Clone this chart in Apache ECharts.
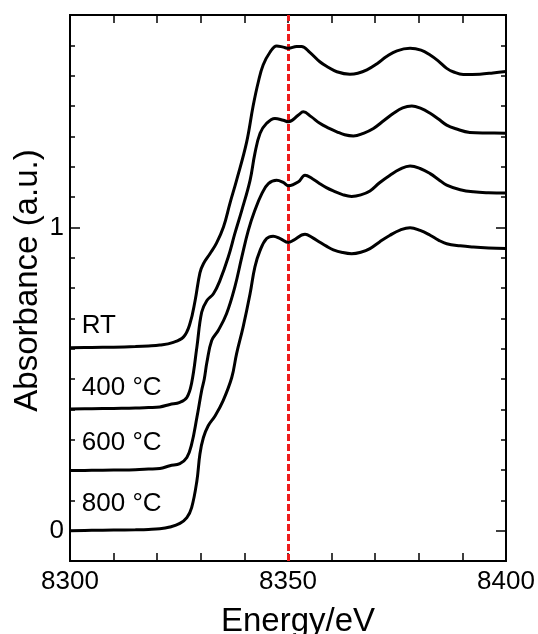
<!DOCTYPE html>
<html>
<head>
<meta charset="utf-8">
<script src="https://cdn.jsdelivr.net/npm/echarts@6/dist/echarts.min.js"></script>
<style>
html, body {margin: 0; padding: 0; background: #fff;}
#main {width: 538px; height: 634px;}
</style>
</head>
<body>
<div id="main"></div>
<script>
// spectra (energy in eV, absorbance in a.u., already offset)
var energyRT = [8300, 8305, 8310, 8315, 8318, 8320.6, 8323.5, 8326.0, 8327.5, 8328.7, 8329.8, 8330.6, 8332.1, 8333.6, 8335.2, 8336.7, 8338.2, 8340.5, 8342.0, 8343.2, 8344.3, 8345.9, 8347.4, 8348.9, 8350.1, 8352.0, 8353.1, 8355.0, 8357.3, 8359.2, 8361.2, 8364.2, 8366.0, 8368.1, 8370.5, 8372.6, 8375.0, 8378.0, 8380.5, 8382.6, 8384.5, 8386.4, 8388.0, 8390.2, 8394.0, 8397.0, 8400];
var absRT = [0.603, 0.604, 0.605, 0.607, 0.609, 0.612, 0.620, 0.638, 0.682, 0.759, 0.850, 0.880, 0.913, 0.948, 1.001, 1.080, 1.155, 1.280, 1.400, 1.480, 1.535, 1.578, 1.598, 1.594, 1.590, 1.596, 1.596, 1.577, 1.546, 1.528, 1.513, 1.505, 1.508, 1.519, 1.540, 1.563, 1.582, 1.590, 1.584, 1.568, 1.548, 1.524, 1.512, 1.504, 1.505, 1.509, 1.514];

var energy400 = [8300, 8305, 8310, 8315, 8318, 8320.6, 8322.9, 8325.2, 8326.8, 8327.9, 8329.1, 8330.2, 8331.4, 8332.9, 8334.4, 8336.3, 8337.8, 8339.4, 8341.3, 8342.4, 8343.6, 8345.1, 8347.0, 8348.9, 8350.1, 8352.4, 8353.5, 8355.3, 8357.3, 8359.2, 8361.2, 8363.0, 8365.0, 8367.3, 8369.6, 8372.0, 8374.2, 8376.3, 8378.4, 8380.5, 8382.6, 8384.5, 8386.4, 8388.5, 8391.7, 8396.0, 8400];
var abs400 = [0.401, 0.402, 0.403, 0.404, 0.406, 0.408, 0.416, 0.423, 0.439, 0.487, 0.605, 0.720, 0.759, 0.781, 0.825, 0.902, 0.979, 1.056, 1.155, 1.243, 1.310, 1.343, 1.359, 1.353, 1.348, 1.370, 1.381, 1.365, 1.343, 1.328, 1.315, 1.305, 1.301, 1.310, 1.326, 1.352, 1.376, 1.394, 1.400, 1.392, 1.376, 1.357, 1.337, 1.325, 1.313, 1.311, 1.310];

var energy600 = [8300, 8305, 8310, 8315, 8318, 8320.6, 8322.9, 8325.2, 8326.8, 8327.9, 8329.1, 8330.2, 8330.8, 8331.4, 8332.5, 8334.0, 8335.9, 8337.8, 8339.4, 8340.9, 8342.4, 8344.0, 8345.5, 8347.4, 8348.9, 8350.1, 8352.4, 8353.9, 8355.6, 8357.3, 8358.8, 8360.4, 8362.5, 8364.6, 8366.7, 8368.8, 8371.0, 8373.4, 8375.7, 8378.0, 8380.3, 8382.6, 8384.5, 8386.4, 8389.5, 8392.5, 8396.0, 8400];
var abs600 = [0.198, 0.199, 0.200, 0.201, 0.203, 0.205, 0.214, 0.221, 0.241, 0.285, 0.373, 0.462, 0.500, 0.555, 0.627, 0.660, 0.715, 0.803, 0.902, 0.990, 1.056, 1.111, 1.144, 1.155, 1.148, 1.137, 1.150, 1.172, 1.160, 1.144, 1.131, 1.120, 1.108, 1.102, 1.107, 1.120, 1.147, 1.172, 1.192, 1.202, 1.194, 1.177, 1.158, 1.139, 1.124, 1.117, 1.114, 1.113];

var energy800 = [8300, 8305, 8310, 8315, 8318, 8320.6, 8322.9, 8325.2, 8326.8, 8327.9, 8329.1, 8329.8, 8330.6, 8331.7, 8333.3, 8335.1, 8337.1, 8338.2, 8339.7, 8341.3, 8342.4, 8343.6, 8345.1, 8346.6, 8348.2, 8350.1, 8351.2, 8353.9, 8355.6, 8357.3, 8358.8, 8360.4, 8362.5, 8364.6, 8366.7, 8368.8, 8371.0, 8373.4, 8375.7, 8378.0, 8380.3, 8382.6, 8384.5, 8386.4, 8389.5, 8392.5, 8396.0, 8400];
var abs800 = [0, 0.001, 0.002, 0.003, 0.004, 0.006, 0.012, 0.024, 0.043, 0.076, 0.164, 0.253, 0.307, 0.346, 0.379, 0.428, 0.505, 0.583, 0.671, 0.781, 0.869, 0.924, 0.963, 0.971, 0.963, 0.950, 0.957, 0.977, 0.966, 0.951, 0.938, 0.926, 0.917, 0.913, 0.918, 0.930, 0.952, 0.974, 0.991, 0.999, 0.990, 0.974, 0.958, 0.946, 0.939, 0.935, 0.932, 0.930];

// sample labels and where they sit
var sampleNames = ['RT', '400 °C', '600 °C', '800 °C'];
var labelX = [8302.7, 8302.7, 8302.7, 8302.7];
var labelY = [0.676, 0.471, 0.290, 0.088];

var refEnergy = 8350;

// ticks
var xLabelValues = [8300, 8350, 8400];
var yLabelValues = [0, 1];
var yMinorTicks = [-0.1, 0, 0.1, 0.2, 0.3, 0.4, 0.5, 0.6, 0.7, 0.8, 0.9, 1, 1.1, 1.2, 1.3, 1.4, 1.5, 1.6, 1.7];

function pairs(xs, ys) {
    var out = [];
    for (var i = 0; i < xs.length; i++) out.push([xs[i], ys[i]]);
    return out;
}

var font = "'Liberation Sans', Arial, sans-serif";
var myChart = echarts.init(document.getElementById('main'));

function yAx(pos, ticks, len, showLabel, name) {
    return {
        type: 'value', position: pos, min: -0.1, max: 1.7,
        axisLine: {show: true, onZero: false, lineStyle: {color: '#000', width: 2}},
        axisTick: {show: true, inside: true, length: len, customValues: ticks, lineStyle: {color: '#000', width: 1.5}},
        axisLabel: {show: showLabel, customValues: yLabelValues, margin: 6, fontSize: 26, color: '#000', fontFamily: font,
            formatter: function (v) { return String(v); }},
        splitLine: {show: false},
        name: name || '',
        nameLocation: 'middle',
        nameGap: 26,
        nameTextStyle: {fontSize: 33, color: '#000', fontFamily: font, padding: [0, 0, 0, 15]}
    };
}

function xAx(pos, showLabel, name) {
    return {
        type: 'value', position: pos, min: 8300, max: 8400, interval: 10,
        axisLine: {show: true, onZero: false, lineStyle: {color: '#000', width: 2}},
        axisTick: {show: true, inside: true, length: 8, lineStyle: {color: '#000', width: 1.5}},
        axisLabel: {show: showLabel, customValues: xLabelValues, margin: 8, fontSize: 26, color: '#000', fontFamily: font,
            formatter: function (v) { return String(v); }},
        splitLine: {show: false},
        name: name || '',
        nameLocation: 'middle',
        nameGap: 44,
        nameTextStyle: {fontSize: 33, color: '#000', fontFamily: font, padding: [0, 0, 0, 20]}
    };
}

var curveStyle = {color: '#000', width: 3};
var spectra = [pairs(energyRT, absRT), pairs(energy400, abs400), pairs(energy600, abs600), pairs(energy800, abs800)];

var series = [];
for (var s = 0; s < spectra.length; s++) {
    series.push({
        name: sampleNames[s],
        type: 'line',
        data: spectra[s],
        smooth: 0.4,
        showSymbol: false,
        lineStyle: curveStyle,
        itemStyle: {color: '#000'},
        z: 3
    });
}

var labelData = [];
for (var k = 0; k < sampleNames.length; k++) {
    labelData.push({name: sampleNames[k], value: [labelX[k], labelY[k]]});
}
series.push({
    type: 'scatter',
    data: labelData,
    symbolSize: 0,
    itemStyle: {color: '#000', opacity: 1},
    label: {
        show: true, position: 'right', distance: 0,
        formatter: '{b}', fontSize: 26, color: '#000', fontFamily: font
    },
    z: 4
});

series[0].markLine = {
    silent: true,
    symbol: 'none',
    label: {show: false},
    lineStyle: {color: '#ee1c1c', width: 3, type: [7, 3]},
    data: [{xAxis: refEnergy}],
    z: 2
};

var option = {
    animation: false,
    backgroundColor: '#fff',
    grid: {left: 70, right: 32, top: 15, bottom: 73, containLabel: false, outerBoundsMode: 'none'},
    xAxis: [xAx('bottom', true, 'Energy/eV'), xAx('top', false)],
    yAxis: [
        yAx('left', yMinorTicks, 5, false, 'Absorbance (a.u.)'),
        yAx('left', yLabelValues, 10, true),
        yAx('right', yMinorTicks, 5, false),
        yAx('right', yLabelValues, 10, false)
    ],
    series: series
};

myChart.setOption(option);
</script>
</body>
</html>
